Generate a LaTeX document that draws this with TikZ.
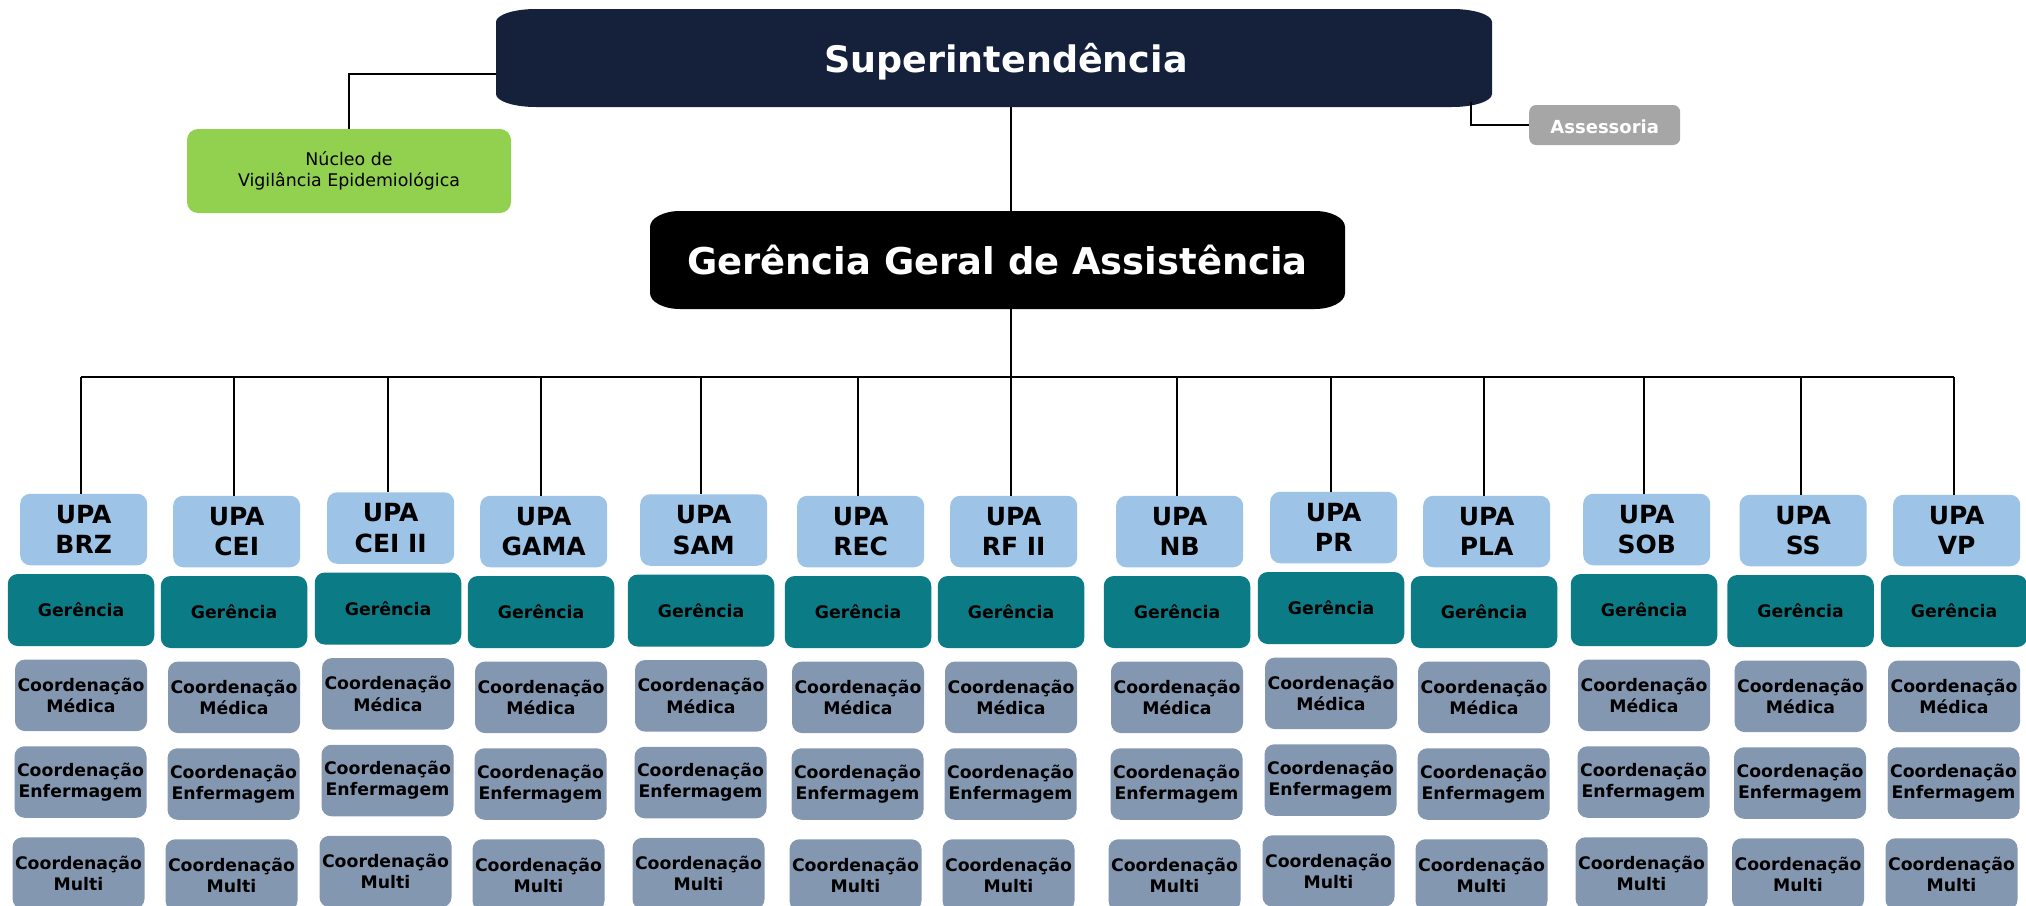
\documentclass[tikz,border=0pt]{standalone}
\usepackage{fontspec}
\setmainfont{DejaVu Sans}
\usetikzlibrary{calc}
\definecolor{navy}{HTML}{15213B}
\definecolor{upablue}{HTML}{9DC3E6}
\definecolor{teal}{HTML}{0B7B85}
\definecolor{coordgrey}{HTML}{8497B0}
\definecolor{nucgreen}{HTML}{92D050}
\definecolor{assgrey}{HTML}{A6A6A6}
\newcommand\mystrut[1]{\rule{0pt}{#1}}
\tikzset{
  ellbox/.style n args={3}{fill=white, path picture={
    \fill[#3] let \p1=(path picture bounding box.south west), \p2=(path picture bounding box.north east) in
      (\x1+#1,\y1) -- (\x2-#1,\y1)
      arc[start angle=270,end angle=360,x radius=#1,y radius=#2] -- (\x2,\y2-#2)
      arc[start angle=0,end angle=90,x radius=#1,y radius=#2] -- (\x1+#1,\y2)
      arc[start angle=90,end angle=180,x radius=#1,y radius=#2] -- (\x1,\y1+#2)
      arc[start angle=180,end angle=270,x radius=#1,y radius=#2] -- cycle;
  }},
  conn/.style={draw=black, line width=2pt},
  colbox/.style={rounded corners=10pt, inner sep=0pt, align=center, text=black},
  upabox/.style={colbox, fill=upablue, minimum width=127pt, minimum height=71.5pt,
    font=\fontsize{25}{30.5}\selectfont\bfseries, execute at begin node=\mystrut{23pt}},
  gerbox/.style={colbox, fill=teal, minimum width=146.5pt, minimum height=72pt,
    font=\fontsize{17.3}{21}\selectfont\bfseries},
  coordbox/.style={colbox, fill=coordgrey, minimum width=132pt, minimum height=71.5pt,
    font=\fontsize{17.3}{21.2}\selectfont\bfseries, execute at begin node=\mystrut{19pt}},
}
\begin{document}
\begin{tikzpicture}[x=1pt,y=1pt]
\useasboundingbox (0,0) rectangle (2026,-905);
\clip (0,0) rectangle (2026,-905);

% top level
\node[ellbox={40pt}{13pt}{navy}, minimum width=996pt, minimum height=98pt, inner sep=0pt, text depth=0pt,
      text=white, font=\fontsize{36.5}{44}\selectfont\bfseries] (s) at (994,-58) {\hspace*{24pt}Superintendência};
\node[ellbox={30pt}{16pt}{black}, minimum width=695pt, minimum height=98pt, inner sep=0pt,
      text=white, font=\fontsize{36.9}{44}\selectfont\bfseries] (gg) at (997.5,-260) {Gerência Geral de Assistência};
\node[rounded corners=11pt, fill=nucgreen, minimum width=324pt, minimum height=84pt, inner sep=0pt,
      align=center, font=\fontsize{17.4}{20.7}\selectfont] (n) at (349,-171) {Núcleo de\\Vigilância Epidemiológica};
\node[rounded corners=7pt, fill=assgrey, minimum width=151pt, minimum height=40pt, inner sep=0pt,
      text=white, font=\fontsize{18}{22}\selectfont\bfseries, execute at begin node=\mystrut{18pt}] (a) at (1604.7,-125) {Assessoria};

\coordinate (trunk) at (1010.5,-377);
\draw[conn] ([yshift=-16pt]s.west) -| (n.north);
\draw[conn] ([xshift=-21pt,yshift=5pt]s.south east) |- (a.west);
\draw[conn] (s.south -| trunk) -- (gg.north -| trunk);
\draw[conn] (gg.south -| trunk) -- (trunk);

% columns
\foreach \i/\L/\off/\nm in {1/81/2/BRZ, 2/234/0/CEI, 3/388/3.5/CEI II, 4/541/0/GAMA, 5/701/1.5/SAM,
    6/858/0/REC, 7/1011/0/RF II, 8/1177/0/NB, 9/1331/4/PR, 10/1484/0/PLA, 11/1644/2/SOB,
    12/1800.5/1/SS, 13/1954/1/VP}{
  \coordinate (b\i) at (\L,-377);
  \node[upabox] (u\i) at (\L+2.7,-531.5+\off) {UPA\\\nm};
  \node[gerbox] (g\i) at (\L,-612+\off) {Gerência};
  \node[coordbox] (m\i) at (\L,-697.3+\off) {Coordenação\\Médica};
  \node[coordbox] (e\i) at (\L-0.5,-784+\off) {Coordenação\\Enfermagem};
  \node[coordbox] (t\i) at (\L-2.5,-875+\off) {Coordenação\\Multi};
  \draw[conn] (b\i) -- (b\i |- u\i.north);
}
\draw[conn] (b1) -- (b13);
\end{tikzpicture}
\end{document}
